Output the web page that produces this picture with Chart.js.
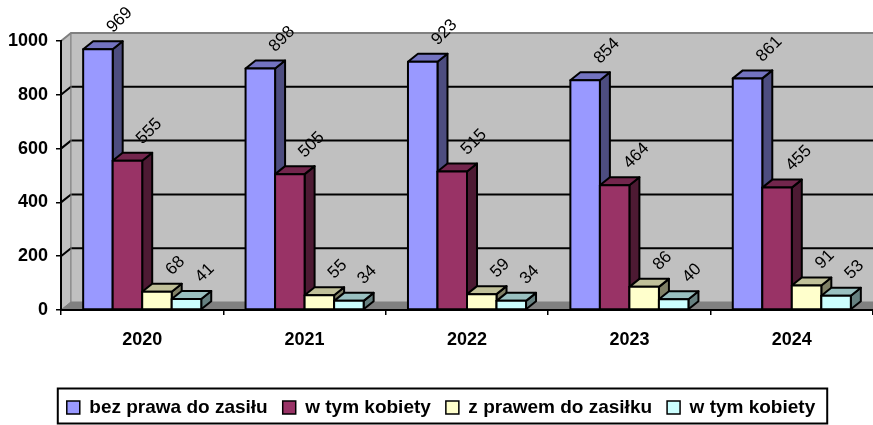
<!DOCTYPE html>
<html lang="pl">
<head>
<meta charset="UTF-8">
<title>Bezrobotni 2020-2024</title>
<script src="https://cdn.jsdelivr.net/npm/chart.js"></script>
<style>
  html, body { margin: 0; padding: 0; background: #fff; }
</style>
</head>
<body>
<canvas id="myChart" width="873" height="425"></canvas>
<script>
// data
const years = ['2020', '2021', '2022', '2023', '2024'];
const bezPrawa = [969, 898, 923, 854, 861];
const bezPrawaKobiety = [555, 505, 515, 464, 455];
const zPrawem = [68, 55, 59, 86, 91];
const zPrawemKobiety = [41, 34, 34, 40, 53];
const seriesNames = ['bez prawa do zasiłu', 'w tym kobiety', 'z prawem do zasiłku', 'w tym kobiety'];
const yTicks = [0, 200, 400, 600, 800, 1000];

const frontCol = ['#9999FF', '#993366', '#FFFFCC', '#CCFFFF'];
const topCol = ['#7373C0', '#73264D', '#C0C099', '#99C0C0'];
const sideCol = ['#4D4D80', '#4D1A33', '#808066', '#668080'];

const DX = 10, DY = 8;   // depth of the 3d look
const FONT = 'Liberation Sans, Arial, sans-serif';

function poly(ctx, pts, fill) {
    ctx.beginPath();
    ctx.moveTo(pts[0][0], pts[0][1]);
    for (let i = 1; i < pts.length; i++) ctx.lineTo(pts[i][0], pts[i][1]);
    ctx.closePath();
    ctx.fillStyle = fill;
    ctx.fill();
    ctx.stroke();
}

// back wall, side wall and floor
const walls = {
    id: 'walls',
    beforeDraw(chart) {
        const {ctx, chartArea: a, scales: {y}} = chart;
        const W = chart.width + 20;
        ctx.save();
        ctx.lineWidth = 1;
        ctx.strokeStyle = '#808080';
        // side wall
        poly(ctx, [[a.left, a.top], [a.left + DX, a.top - DY], [a.left + DX, a.bottom - DY], [a.left, a.bottom]], '#C0C0C0');
        // back wall
        ctx.fillStyle = '#C0C0C0';
        ctx.fillRect(a.left + DX, a.top - DY, W, a.bottom - a.top);
        // floor
        poly(ctx, [[a.left, a.bottom], [a.left + DX, a.bottom - DY], [W, a.bottom - DY], [W, a.bottom]], '#808080');
        // grid lines
        yTicks.forEach(v => {
            if (v === 0) return;
            const yy = y.getPixelForValue(v);
            ctx.beginPath();
            ctx.strokeStyle = v === 1000 ? '#808080' : '#000';
            ctx.lineWidth = 2;
            ctx.moveTo(a.left, yy);
            ctx.lineTo(a.left + DX, yy - DY);
            ctx.lineTo(W, yy - DY);
            ctx.stroke();
        });
        ctx.strokeStyle = '#808080';
        ctx.lineWidth = 1;
        ctx.beginPath();
        ctx.moveTo(a.left + DX, a.top - DY);
        ctx.lineTo(a.left + DX, a.bottom - DY);
        ctx.stroke();
        ctx.restore();
    },
    afterLayout(chart) {
        chart.legend.top += 2;
        chart.legend.bottom += 2;
    },
    afterDraw(chart) {
        const hb = chart.legend.legendHitBoxes;
        if (!hb || !hb.length) return;
        const ctx = chart.ctx;
        const last = hb[hb.length - 1];
        const x0 = hb[0].left - 9, x1 = last.left + last.width + 12;
        const y0 = hb[0].top - 9.5, y1 = hb[0].top + hb[0].height + 6.5;
        ctx.save();
        ctx.strokeStyle = '#000';
        ctx.lineWidth = 2;
        ctx.strokeRect(x0, y0, x1 - x0, y1 - y0);
        ctx.restore();
    }
};

// bars drawn as boxes, using the positions chart.js computed
const bars3d = {
    id: 'bars3d',
    beforeDatasetsDraw(chart) {
        const ctx = chart.ctx;
        ctx.save();
        ctx.strokeStyle = '#000';
        ctx.lineWidth = 2;
        ctx.lineJoin = 'round';
        chart.data.datasets.forEach((ds, i) => {
            chart.getDatasetMeta(i).data.forEach(bar => {
                const l = bar.x - bar.width / 2, r = bar.x + bar.width / 2;
                const t = bar.y, b = bar.base;
                poly(ctx, [[r, t], [r + DX, t - DY], [r + DX, b - DY], [r, b]], sideCol[i]);
                poly(ctx, [[l, t], [l + DX, t - DY], [r + DX, t - DY], [r, t]], topCol[i]);
                poly(ctx, [[l, t], [r, t], [r, b], [l, b]], frontCol[i]);
            });
        });
        // value labels, turned 45 degrees
        ctx.fillStyle = '#000';
        ctx.font = '17px ' + FONT;
        ctx.textAlign = 'left';
        ctx.textBaseline = 'alphabetic';
        chart.data.datasets.forEach((ds, i) => {
            chart.getDatasetMeta(i).data.forEach((bar, j) => {
                ctx.save();
                ctx.translate(bar.x + 15, bar.y - 16);
                ctx.rotate(-Math.PI / 4);
                ctx.fillText(String(ds.data[j]), 0, 0);
                ctx.restore();
            });
        });
        ctx.restore();
        return false;
    }
};

const ctx = document.getElementById('myChart');

new Chart(ctx, {
    type: 'bar',
    data: {
        labels: years,
        datasets: [bezPrawa, bezPrawaKobiety, zPrawem, zPrawemKobiety].map((d, i) => ({
            label: seriesNames[i],
            data: d,
            backgroundColor: frontCol[i],
            borderColor: '#000',
            borderWidth: 1.5
        }))
    },
    options: {
        responsive: false,
        animation: false,
        categoryPercentage: 0.727,
        barPercentage: 1,
        layout: { padding: { top: 41, left: 9, right: 0, bottom: 0 } },
        scales: {
            x: {
                afterFit: s => { s.height = 71; },
                grid: { drawOnChartArea: false, tickLength: 5, color: '#000', lineWidth: 1.5 },
                border: { color: '#000', width: 2 },
                ticks: { color: '#000', padding: 14, font: { family: FONT, size: 18, weight: 'bold' } }
            },
            y: {
                min: 0,
                max: 1000,
                afterFit: s => { s.width = 52; },
                afterBuildTicks: s => { s.ticks = yTicks.map(v => ({ value: v })); },
                grid: { drawOnChartArea: false, tickLength: 5, color: '#000', lineWidth: 1.5 },
                border: { color: '#000', width: 2 },
                ticks: {
                    color: '#000',
                    padding: 8,
                    font: { family: FONT, size: 18, weight: 'bold' },
                    callback: v => String(v)
                }
            }
        },
        plugins: {
            tooltip: { enabled: false },
            legend: {
                position: 'bottom',
                labels: {
                    color: '#000',
                    boxWidth: 13,
                    boxHeight: 13,
                    padding: 15,
                    font: { family: FONT, size: 19, weight: 'bold' }
                }
            }
        }
    },
    plugins: [walls, bars3d]
});
</script>
</body>
</html>
